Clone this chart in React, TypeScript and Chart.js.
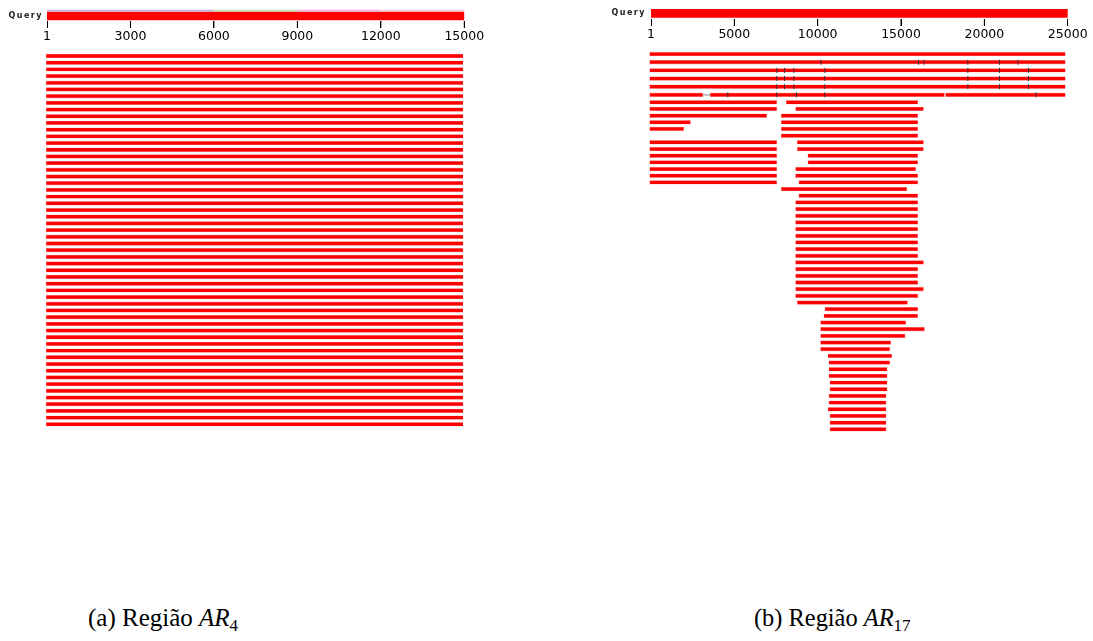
import React, { useEffect, useRef } from 'react';
import { Chart, registerables } from 'chart.js';

Chart.register(...registerables);

// ---------- data ----------
const queryLabel = 'Query';
const leftAxisTicks = [1, 3000, 6000, 9000, 12000, 15000];
const rightAxisTicks = [1, 5000, 10000, 15000, 20000, 25000];
const leftQuery = [1, 15000];
const rightQuery = [1, 25000];

// thin coverage line above the left query bar
const leftCoverStart = [1, 6000, 9000, 12000];
const leftCoverEnd = [6000, 9000, 12000, 15000];
const leftCoverColors = ['#b4b4f0', '#b4e8ac', '#f0b0ec', '#f6ccd6'];

// panel (a): 56 hits, all full length
const leftHitStart = [
  1, 1, 1, 1, 1, 1, 1, 1, 1, 1, 1, 1, 1, 1, 1, 1, 1, 1, 1, 1, 1, 1, 1, 1, 1, 1, 1, 1,
  1, 1, 1, 1, 1, 1, 1, 1, 1, 1, 1, 1, 1, 1, 1, 1, 1, 1, 1, 1, 1, 1, 1, 1, 1, 1, 1, 1,
];
const leftHitEnd = [
  15000, 15000, 15000, 15000, 15000, 15000, 15000, 15000, 15000, 15000, 15000, 15000, 15000, 15000,
  15000, 15000, 15000, 15000, 15000, 15000, 15000, 15000, 15000, 15000, 15000, 15000, 15000, 15000,
  15000, 15000, 15000, 15000, 15000, 15000, 15000, 15000, 15000, 15000, 15000, 15000, 15000, 15000,
  15000, 15000, 15000, 15000, 15000, 15000, 15000, 15000, 15000, 15000, 15000, 15000, 15000, 15000,
];

// panel (b): first segment of each of the 56 hits
const rightSeg1Start = [
  1, 1, 1, 1, 1, 1,
  1, 1, 1, 1, 1, 7900,
  1, 1, 1, 1, 1, 1, 1,
  7900, 8960,
  8760, 8760, 8760, 8760, 8760, 8760, 8760, 8760, 8760,
  8760, 8760, 8760, 8760, 8760, 8760, 8860,
  10520, 10460, 10260, 10260, 10260, 10260, 10260, 10700, 10760, 10760, 10760, 10820, 10820,
  10760, 10760, 10700, 10820, 10820, 10820,
];
const rightSeg1End = [
  24950, 24950, 24950, 24950, 24950, 3200,
  7640, 7640, 7040, 2460, 2060, 16100,
  7640, 7640, 7640, 7640, 7640, 7640, 7640,
  15440, 16100,
  16100, 16100, 16100, 16100, 16100, 16100, 16100, 16100, 16100,
  16440, 16100, 16100, 16100, 16440, 16100, 15480,
  16100, 16100, 15380, 16500, 15340, 14480, 14420, 14540, 14420, 14260, 14260, 14260, 14260,
  14200, 14200, 14200, 14200, 14200, 14200,
];
// second segments
const rightSeg2Rows = [6, 7, 8, 9, 10, 11, 13, 14, 15, 16, 17, 18, 19];
const rightSeg2Start = [3640, 8200, 8760, 7900, 7900, 7900, 8860, 8860, 9500, 9500, 8760, 8760, 8960];
const rightSeg2End = [17700, 16100, 16440, 16100, 16100, 16100, 16440, 16440, 16100, 16100, 15980, 16100, 16100];
// third segments
const rightSeg3Rows = [6];
const rightSeg3Start = [17760];
const rightSeg3End = [24950];
// grey gap line
const rightGapRows = [6];
const rightGapStart = [3200];
const rightGapEnd = [3640];
// small dark tick marks
const rightTickRows = [
  2, 2, 2, 2, 2, 2,
  3, 3, 3, 3, 3, 3, 3,
  4, 4, 4, 4, 4, 4, 4,
  5, 5, 5, 5, 5, 5, 5,
  6, 6, 6, 6, 6,
];
const rightTickPos = [
  10280, 16140, 16480, 19100, 21000, 22100,
  7640, 8100, 8660, 10520, 19100, 21000, 22740,
  7640, 8100, 8660, 10520, 19100, 21000, 22740,
  7640, 8100, 8660, 10520, 19100, 21000, 22740,
  4700, 7640, 8820, 10520, 23200,
];

const leftRows = leftHitStart.map((_, i) => String(i + 1));
const rightRows = rightSeg1Start.map((_, i) => String(i + 1));
const rulerRow = ['ruler'];

// ---------- styles ----------
const RED = '#ff0000';
const FRINGE = 'rgba(255,0,0,0.35)';

const spacingPlugin = {
  id: 'querySpacing',
  afterDatasetsDraw(chart: any) {
    (chart.ctx as any).letterSpacing = '1.5px';
  },
  afterDraw(chart: any) {
    (chart.ctx as any).letterSpacing = '0px';
  },
};

const baseOptions = {
  animation: false,
  responsive: false,
  devicePixelRatio: 1,
  events: [],
  plugins: { legend: { display: false }, tooltip: { enabled: false }, title: { display: false } },
};

// query bar + "Query" label
function queryConfig(range: number[], g: any, extra: any[]) {
  return {
    type: 'bar',
    data: {
      datasets: [
        { indexAxis: 'y', data: [{ x: range, y: g.barPos }], backgroundColor: RED, barThickness: 8, grouped: false },
        ...extra,
      ],
    },
    options: {
      ...baseOptions,
      indexAxis: 'y',
      layout: { padding: { top: g.areaTop, right: g.padRight, left: 0, bottom: 0 } },
      scales: {
        x: { type: 'linear', min: range[0], max: range[1], offset: false, display: false },
        y: {
          type: 'linear',
          min: 0,
          max: g.height - g.areaTop,
          reverse: true,
          offset: false,
          afterBuildTicks: (s: any) => {
            s.ticks = [{ value: g.barPos }];
          },
          afterFit: (s: any) => {
            s.width = g.axisWidth;
            s.paddingTop = 0;
            s.paddingBottom = 0;
          },
          grid: { display: false, drawTicks: false },
          border: { display: false },
          ticks: {
            padding: g.labelPad,
            color: '#222',
            font: { family: 'DejaVu Sans', size: 8, weight: 'bold' },
            callback: () => queryLabel,
            z: 1,
          },
        },
      },
    },
    plugins: [spacingPlugin],
  };
}

// tick labels of the scale ruler (grid lines on a 7px chart area as tick marks)
function axisConfig(range: number[], ticks: number[], g: any) {
  return {
    type: 'bar',
    data: { datasets: [] },
    options: {
      ...baseOptions,
      layout: { padding: { top: 0, right: g.padRight, left: g.padLeft, bottom: 0 } },
      scales: {
        x: {
          type: 'linear',
          position: 'bottom',
          min: range[0],
          max: range[1],
          offset: false,
          afterBuildTicks: (s: any) => {
            s.ticks = ticks.map((v) => ({ value: v }));
          },
          afterFit: (s: any) => {
            s.height = g.height - g.markLength;
          },
          grid: { display: true, offset: false, drawOnChartArea: true, drawTicks: false, color: '#000', lineWidth: 1 },
          border: { display: false },
          ticks: {
            autoSkip: false,
            maxRotation: 0,
            minRotation: 0,
            padding: g.tickPad,
            color: '#000',
            font: { family: 'DejaVu Sans', size: 12.5, lineHeight: 1.5 },
            callback: (v: any) => String(v),
          },
        },
        y: { type: 'linear', min: 0, max: 1, display: false },
      },
    },
  };
}

function barSet(points: any[], thickness = 3.8, color = RED, fringe = FRINGE) {
  return {
    type: 'bar',
    indexAxis: 'y',
    data: points,
    backgroundColor: color,
    borderColor: fringe || color,
    borderWidth: fringe ? 0.6 : 0,
    borderSkipped: false,
    barThickness: thickness,
    grouped: false,
  };
}

function markSet(points: any[], radius: number, color: string) {
  return {
    type: 'scatter',
    data: points,
    pointStyle: 'line',
    rotation: 90,
    radius,
    borderWidth: 1,
    borderColor: color,
    backgroundColor: color,
  };
}

function rowsConfig(labels: string[], datasets: any[], range: number[], pad: any) {
  return {
    type: 'bar',
    data: { labels, datasets },
    options: {
      ...baseOptions,
      indexAxis: 'y',
      layout: { padding: pad },
      scales: {
        x: { type: 'linear', min: range[0], max: range[1], display: false, offset: false },
        y: { type: 'category', labels, display: false, offset: true },
      },
    },
  };
}

function rightDatasets(rowSet: string[]) {
  const has = (r: string) => rowSet.includes(r);
  const ticks = rightTickRows
    .map((r, i) => ({ x: rightTickPos[i], y: String(r) }))
    .filter((p) => has(p.y));
  const s1 = rightSeg1Start.map((s, i) => ({ x: [s, rightSeg1End[i]], y: rightRows[i] })).filter((p) => has(p.y));
  const s2 = rightSeg2Rows.map((r, i) => ({ x: [rightSeg2Start[i], rightSeg2End[i]], y: String(r) })).filter((p) => has(p.y));
  const s3 = rightSeg3Rows.map((r, i) => ({ x: [rightSeg3Start[i], rightSeg3End[i]], y: String(r) })).filter((p) => has(p.y));
  const gap = rightGapRows.map((r, i) => ({ x: [rightGapStart[i], rightGapEnd[i]], y: String(r) })).filter((p) => has(p.y));
  const sets: any[] = [];
  if (ticks.length) sets.push(markSet(ticks, 2.5, '#333'));
  sets.push(barSet(s1), barSet(s2), barSet(s3));
  if (gap.length) sets.push(barSet(gap, 1, '#b8b8b8', ''));
  return sets;
}

function ChartCanvas(props: { left: number; top: number; width: number; height: number; make: () => any }) {
  const ref = useRef<HTMLCanvasElement | null>(null);
  useEffect(() => {
    if (!ref.current) return;
    const chart = new Chart(ref.current, props.make());
    return () => chart.destroy();
  }, []);
  return (
    <canvas
      ref={ref}
      width={props.width}
      height={props.height}
      style={{ position: 'absolute', left: props.left, top: props.top, width: props.width, height: props.height }}
    />
  );
}

const captionStyle: React.CSSProperties = {
  position: 'absolute',
  fontFamily: '"Liberation Serif", "DejaVu Serif", serif',
  fontSize: 25,
  whiteSpace: 'nowrap',
  color: '#000',
  lineHeight: '30px',
};

export default function App() {
  // panel (a) geometry
  const leftRowTop = 52.65;
  const leftRowHeight = 375;
  // panel (b) geometry
  const rTopRowTop = 48.5;
  const rTopRowHeight = 50.4;
  const rMainTop = 98.96;
  const rMainHeight = 333.7;

  const rightTopLabels = rightRows.slice(0, 6);
  const rightMainLabels = rightRows.slice(6);

  return (
    <div style={{ position: 'absolute', left: 0, top: 0, width: 1093, height: 641, overflow: 'hidden', background: '#fff' }}>
      {/* panel (a) */}
      <ChartCanvas
        left={0}
        top={0}
        width={500}
        height={21}
        make={() =>
          queryConfig(
            leftQuery,
            { height: 21, areaTop: 9, axisWidth: 47, padRight: 500 - 464.3, labelPad: 4, barPos: 7 },
            [
              {
                indexAxis: 'y',
                data: leftCoverStart.map((s, i) => ({ x: [s, leftCoverEnd[i]], y: 1.5 })),
                backgroundColor: leftCoverColors,
                barThickness: 1,
                grouped: false,
              },
            ]
          )
        }
      />
      <ChartCanvas
        left={0}
        top={21}
        width={500}
        height={25}
        make={() =>
          axisConfig(leftQuery, leftAxisTicks, { height: 25, markLength: 7, padLeft: 47, padRight: 500 - 464.3, tickPad: -0.5 })
        }
      />
      <ChartCanvas
        left={0}
        top={12}
        width={500}
        height={25}
        make={() =>
          rowsConfig(
            rulerRow,
            [markSet(leftAxisTicks.map((v) => ({ x: v, y: rulerRow[0] })), 3.5, '#000')],
            leftQuery,
            { left: 47, right: 500 - 464.3, top: 9, bottom: 9 }
          )
        }
      />
      <ChartCanvas
        left={0}
        top={45}
        width={500}
        height={400}
        make={() =>
          rowsConfig(
            leftRows,
            [barSet(leftHitStart.map((s, i) => ({ x: [s, leftHitEnd[i]], y: leftRows[i] })))],
            leftQuery,
            { left: 46, right: 500 - 463.3, top: leftRowTop - 45, bottom: 400 - (leftRowTop - 45) - leftRowHeight }
          )
        }
      />

      {/* panel (b) */}
      <ChartCanvas
        left={560}
        top={0}
        width={533}
        height={19}
        make={() =>
          queryConfig(
            rightQuery,
            { height: 19, areaTop: 7.3, axisWidth: 91, padRight: 533 - 507.7, labelPad: 5, barPos: 6 },
            []
          )
        }
      />
      <ChartCanvas
        left={560}
        top={19}
        width={533}
        height={25}
        make={() =>
          axisConfig(rightQuery, rightAxisTicks, { height: 25, markLength: 7, padLeft: 91, padRight: 533 - 507.7, tickPad: -1 })
        }
      />
      <ChartCanvas
        left={560}
        top={10}
        width={533}
        height={25}
        make={() =>
          rowsConfig(
            rulerRow,
            [markSet(rightAxisTicks.map((v) => ({ x: v, y: rulerRow[0] })), 3.5, '#000')],
            rightQuery,
            { left: 91, right: 533 - 507.7, top: 9, bottom: 9 }
          )
        }
      />
      <ChartCanvas
        left={560}
        top={45}
        width={533}
        height={60}
        make={() =>
          rowsConfig(rightTopLabels, rightDatasets(rightTopLabels), rightQuery, {
            left: 89.5,
            right: 533 - 506.2,
            top: rTopRowTop - 45,
            bottom: 60 - (rTopRowTop - 45) - rTopRowHeight,
          })
        }
      />
      <ChartCanvas
        left={560}
        top={98}
        width={533}
        height={345}
        make={() =>
          rowsConfig(rightMainLabels, rightDatasets(rightMainLabels), rightQuery, {
            left: 89.5,
            right: 533 - 506.2,
            top: rMainTop - 98,
            bottom: 345 - (rMainTop - 98) - rMainHeight,
          })
        }
      />

      {/* captions */}
      <div style={{ ...captionStyle, left: 88, top: 603 }}>
        (a) Região <i>AR</i>
        <span style={{ fontSize: 17, position: 'relative', top: 5 }}>4</span>
      </div>
      <div style={{ ...captionStyle, left: 754, top: 603, fontSize: 24.4 }}>
        (b) Região <i>AR</i>
        <span style={{ fontSize: 17, position: 'relative', top: 5 }}>17</span>
      </div>
    </div>
  );
}
